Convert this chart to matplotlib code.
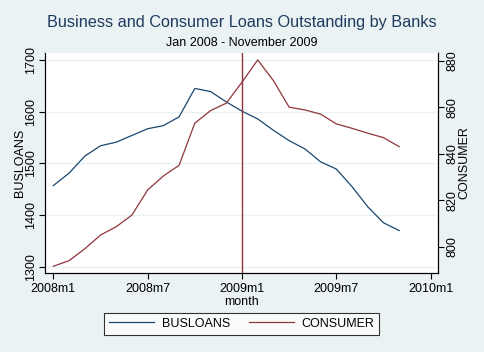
import numpy as np
import matplotlib
matplotlib.use("Agg")
import matplotlib.pyplot as plt

plt.rcParams['font.family'] = ['Liberation Sans', 'DejaVu Sans']

# monthly data, Jan 2008 - Nov 2009
months = np.arange(23)
busloans = [1457, 1481, 1514, 1534, 1541, 1554, 1567, 1573, 1590, 1645,
            1639, 1619, 1601, 1586, 1564, 1544, 1528, 1503, 1489, 1455,
            1416, 1385, 1370]
consumer = [791.6, 794.0, 799.1, 805.0, 808.6, 813.6, 824.4, 830.4, 835.0, 853.1,
            858.5, 861.7, 870.7, 880.3, 871.4, 860.0, 858.8, 857.0, 852.8, 850.9,
            848.8, 846.9, 843.0]
xtick_pos = [0, 6, 12, 18, 24]
xtick_labels = ["2008m1", "2008m7", "2009m1", "2009m7", "2010m1"]
left_ticks = [1300, 1400, 1500, 1600, 1700]
right_ticks = [800, 820, 840, 860, 880]

bg = "#EAF2F3"
blue = "#1A476F"
red = "#90353B"

fig = plt.figure(figsize=(4.84, 3.52), dpi=100, facecolor=bg)
ax = fig.add_axes([45/484, 1 - 273/352, (438 - 45)/484, (273 - 52)/352])
ax.set_facecolor("white")
ax2 = ax.twinx()

l1, = ax.plot(months, busloans, color=blue, lw=0.9, label="BUSLOANS")
l2, = ax2.plot(months, consumer, color=red, lw=0.9, label="CONSUMER")
ax.axvline(12, color=red, lw=1.0)

ax.set_xlim(-0.53, 24.47)
ax.set_ylim(1287.8, 1715.5)
ax2.set_ylim(788.7, 883.7)

ax.set_xticks(xtick_pos)
ax.set_xticklabels(xtick_labels, fontsize=9)
ax.set_yticks(left_ticks)
ax.set_yticklabels([str(t) for t in left_ticks], fontsize=9, rotation=90, va="center")
ax2.set_yticks(right_ticks)
ax2.set_yticklabels([str(t) for t in right_ticks], fontsize=9, rotation=90, va="center")

for a in (ax, ax2):
    a.tick_params(direction="out", length=4, width=0.8, colors="black", pad=2)
    a.spines["top"].set_color(bg)
    a.spines["top"].set_linestyle(":")
    for s in ("left", "right", "bottom"):
        a.spines[s].set_linewidth(0.8)
ax.tick_params(axis="x", pad=3.5)

ax.yaxis.grid(True, color=bg, lw=1.0)
ax.set_axisbelow(True)

ax.set_xlabel("month", fontsize=9)
ax.xaxis.set_label_coords(0.5, (273 - 296) / 221)
ax.set_ylabel("BUSLOANS", fontsize=9)
ax.yaxis.set_label_coords((26 - 45) / 393, 0.5)
ax2.set_ylabel("CONSUMER", fontsize=9)
ax2.yaxis.set_label_coords((458 - 45) / 393, 0.5)

fig.text(0.5, 1 - 22.7/352, "Business and Consumer Loans Outstanding by Banks",
         ha="center", va="center", fontsize=11.7, color="#1E3A5F")
fig.text(0.5, 1 - 42.7/352, "Jan 2008 - November 2009",
         ha="center", va="center", fontsize=9, color="black")

leg = fig.legend([l1, l2], ["BUSLOANS", "CONSUMER"], loc="center",
                 bbox_to_anchor=(241.5/484, 1 - 323.7/352), ncol=2, fontsize=9,
                 frameon=True, fancybox=False, edgecolor="black",
                 handlelength=3.6, handletextpad=0.6, columnspacing=1.5,
                 borderpad=0.4, borderaxespad=0)
leg.get_frame().set_linewidth(0.8)

fig.savefig("out.png", dpi=100, facecolor=bg)
